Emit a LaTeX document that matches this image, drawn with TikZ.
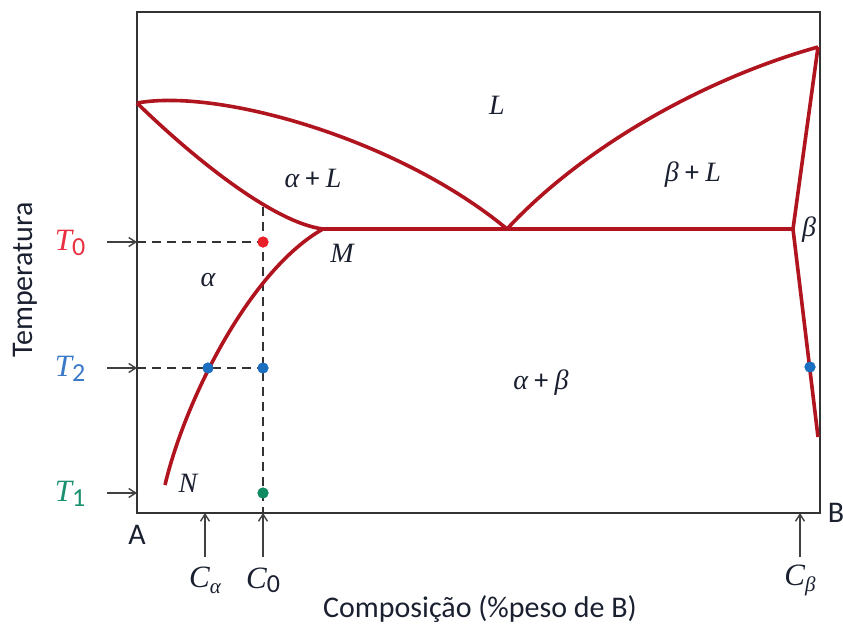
\documentclass[tikz,border=0pt]{standalone}
\usepackage{fontspec}
\setmainfont{Carlito}
\newfontfamily\tms{Liberation Serif}
\usetikzlibrary{arrows.meta}
\definecolor{curvered}{HTML}{B0141E}
\definecolor{dotred}{HTML}{E8202A}
\definecolor{dotblue}{HTML}{1A6FC0}
\definecolor{dotgreen}{HTML}{108A60}
\definecolor{tred}{HTML}{E83040}
\definecolor{tblue}{HTML}{3A78C8}
\definecolor{tgreen}{HTML}{1A9070}
\definecolor{frame}{HTML}{333333}
\definecolor{ink}{HTML}{1A2030}
\newcommand{\mi}[1]{{\tms\itshape #1}}
\newcommand{\sub}[2]{\raisebox{#1}{#2}}
\begin{document}
\begin{tikzpicture}[x=1pt,y=-1pt,
  phase/.style={curvered,line width=3.6pt},
  framebox/.style={frame,line width=1.6pt},
  guide/.style={black!80,line width=1.4pt,dash pattern=on 9pt off 6pt},
  pointer/.style={black!75,line width=1.4pt,-{Straight Barb[length=7pt,width=9pt]}},
  dot/.style={circle,fill=#1,inner sep=0pt,minimum size=11pt},
  region/.style={text=ink,font=\fontsize{28}{30}\selectfont},
  lbl/.style={text=ink,font=\fontsize{31}{33}\selectfont},
  axis/.style={text=ink,font=\fontsize{30}{32}\selectfont}]
\useasboundingbox (0,0) rectangle (843,627);
% frame
\coordinate (TL) at (137,12);
\coordinate (BR) at (820,513);
\draw[framebox] (TL) rectangle (BR);
% key points
\coordinate (Aliq) at (137,103);
\coordinate (M) at (323,229);
\coordinate (E) at (507,229);
\coordinate (Bliq) at (818,47);
\coordinate (Bs) at (793,229);
\coordinate (Bend) at (818,437);
\coordinate (Nend) at (165,485);
% guide lines
\coordinate (T0s) at (107,242);
\coordinate (T0f) at (137,242);
\coordinate (T2s) at (107,368);
\coordinate (T2f) at (137,368);
\coordinate (T1s) at (107,493);
\coordinate (T1f) at (137,493);
\coordinate (Ctop) at (263,207);
\coordinate (Cbot) at (263,513);
\node[dot=dotred] (p0) at (263,242) {};
\node[dot=dotblue] (p2a) at (208,368) {};
\node[dot=dotblue] (p2b) at (263,368) {};
\node[dot=dotgreen] (p1) at (263,493) {};
\node[dot=dotblue] (p2c) at (810,367) {};
\draw[guide] (T0f) -- (p0.center);
\draw[guide] (T2f) -- (p2b.center);
\draw[guide] (Ctop) -- (Cbot);
% phase boundaries
\draw[phase] (Aliq) .. controls (220,88) and (400,140) .. (E);
\draw[phase] (Aliq) .. controls (185,150) and (270,222) .. (M);
\draw[phase] (M) .. controls (250,270) and (185,400) .. (Nend);
\draw[phase] (E) .. controls (580,150) and (700,80) .. (Bliq);
\draw[phase,line join=round] (Bliq) -- (Bs) -- (Bend);
\draw[phase] (M) -- (Bs);
% redraw dots on top
\node[dot=dotred] at (p0) {};
\node[dot=dotblue] at (p2a) {};
\node[dot=dotblue] at (p2b) {};
\node[dot=dotblue] at (p2c) {};
\node[dot=dotgreen] at (p1) {};
% temperature arrows
\draw[pointer] (T0s) -- (T0f);
\draw[pointer] (T2s) -- (T2f);
\draw[pointer] (T1s) -- (T1f);
\node[lbl,text=tred] (T0) at (70,243) {\mi{T}\sub{-5pt}{\fontsize{26}{26}\selectfont 0}};
\node[lbl,text=tblue] (T2) at (70,369) {\mi{T}\sub{-5pt}{\fontsize{26}{26}\selectfont 2}};
\node[lbl,text=tgreen] (T1) at (70,494) {\mi{T}\sub{-5pt}{\fontsize{26}{26}\selectfont 1}};
% composition arrows
\coordinate (Cas) at (205,557);
\coordinate (Caf) at (205,513);
\coordinate (C0s) at (263,557);
\coordinate (C0f) at (263,513);
\coordinate (Cbs) at (800,557);
\coordinate (Cbf) at (800,513);
\draw[pointer] (Cas) -- (Caf);
\draw[pointer] (C0s) -- (C0f);
\draw[pointer] (Cbs) -- (Cbf);
\node[lbl] (Ca) at (205,580) {\mi{C}\sub{-6pt}{\fontsize{21}{21}\selectfont\mi{α}}};
\node[lbl] (C0) at (263,580) {\mi{C}\sub{-4pt}{\fontsize{26}{26}\selectfont 0}};
\node[lbl] (Cb) at (800,580) {\mi{C}\sub{-6pt}{\fontsize{21}{21}\selectfont\mi{β}}};
% region labels
\node[region] (L) at (497,105) {\mi{L}};
\node[region] (aL) at (313,178) {\mi{α} + \mi{L}};
\node[region] (bL) at (693,175) {\mi{β} + \mi{L}};
\node[region] (ab) at (541,383) {\mi{α} + \mi{β}};
\node[region] (al) at (208,280) {\mi{α}};
\node[region] (be) at (809,230) {\mi{β}};
\node[region] (Mlab) at (342,253) {\mi{M}};
\node[region] (Nlab) at (188,483) {\mi{N}};
% axis texts
\node[axis] (A) at (137,535) {A};
\node[axis] (B) at (836,513) {B};
\node[axis,rotate=90] (temp) at (25,280) {Temperatura};
\node[axis] (comp) at (480,609) {Composição (\%peso de B)};
\end{tikzpicture}
\end{document}
